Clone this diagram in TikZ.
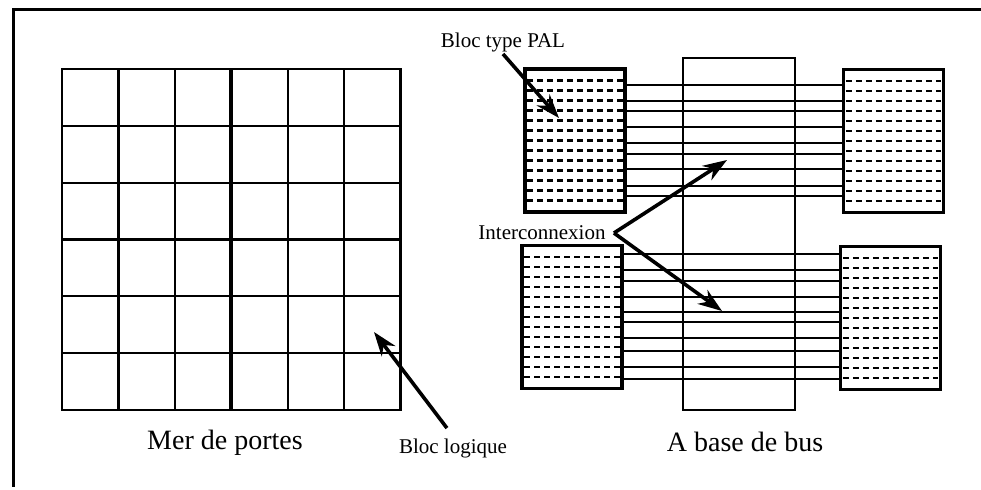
\documentclass[tikz,border=0pt]{standalone}
\usepackage{fontspec}
\setmainfont{Liberation Serif}
\usetikzlibrary{arrows.meta, calc, matrix}

\begin{document}
\begin{tikzpicture}[x=0.5pt, y=-0.5pt,
	nodes in empty cells,
	cell/.style={draw, line width=1.1pt, minimum width=28.2pt, minimum height=28.4pt, inner sep=0pt},
	pal/.style={draw, line width=1.6pt, minimum width=50pt, minimum height=71.5pt, inner sep=0pt},
	bus/.style={draw, line width=1.1pt, minimum width=56pt, minimum height=176pt, inner sep=0pt},
	trame/.style={line width=1.2pt, dash pattern=on 3pt off 2pt},
	fil/.style={line width=1.4pt},
	pointer/.style={line width=1.8pt, -{Stealth[length=12pt, width=8.5pt]}},
	petit/.style={font=\fontsize{10.5}{12}\selectfont, inner sep=1pt},
	titre/.style={font=\fontsize{14}{16}\selectfont}]
	
	\useasboundingbox (0,0) rectangle (981,489);
	\draw[line width=1.5pt] (981,9) -- (13,9) -- (13,487);
	
	% mer de portes
	\matrix(mer)[matrix of nodes, ampersand replacement=\&,
	anchor=north west, inner sep=0pt, outer sep=0pt,
	row sep=-1.1pt, column sep=-1.1pt,
	nodes={cell}] at (61,68)
	{ % use \& instead of & as column separator
		\& \& \& \& \& \\
		\& \& \& \& \& \\
		\& \& \& \& \& \\
		\& \& \& \& \& \\
		\& \& \& \& \& \\
		\& \& \& \& \& \\
	};
	\draw[line width=2pt] (mer-1-3.north east) -- (mer-6-3.south east);
	
	% a base de bus
	\node[bus] (bus) at (739,234) {};
	\node[pal, fill=white] (palA) at (575,140.5) {};
	\node[pal, fill=white] (palB) at (572,317) {};
	\node[pal, fill=white] (palC) at (893.5,141) {};
	\node[pal, fill=white] (palD) at (890.5,318) {};
	\foreach \b in {palA, palB, palC, palD}
		\foreach \k in {1,...,13}
			\draw[trame] ($(\b.north west)+(4,3+10*\k)$) -- ($(\b.north east)+(-4,3+10*\k)$);
	\foreach \y in {85,101,111,127,143,154,169,186,196}
		\draw[fil] (palA.east |- 0,\y) -- (palC.west |- 0,\y);
	\foreach \y in {254,270,281,297,312,322,338,351,367,379}
		\draw[fil] (palB.east |- 0,\y) -- (palD.west |- 0,\y);
	
	% textes
	\node[petit] (lblPal) at (503,42) {Bloc type PAL};
	\node[petit] (lblInt) at (542,233) {Interconnexion};
	\node[petit] (lblLog) at (453,448) {Bloc logique};
	\node[titre] (merTxt) at (225,443) {Mer de portes};
	\node[titre] (busTxt) at (745,442) {A base de bus};
	
	\coordinate (tipPal) at (559,118);
	\coordinate (tipHaut) at (727,160);
	\coordinate (tipBas) at (722,311);
	\coordinate (tipLog) at (374,332);
	\draw[pointer] (lblPal.south) -- (tipPal);
	\draw[pointer] ([xshift=3pt]lblInt.east) -- (tipHaut);
	\draw[pointer] ([xshift=3pt]lblInt.east) -- (tipBas);
	\draw[pointer, shorten <=5pt] (lblLog.north) -- (tipLog);
	
\end{tikzpicture}
\end{document}
